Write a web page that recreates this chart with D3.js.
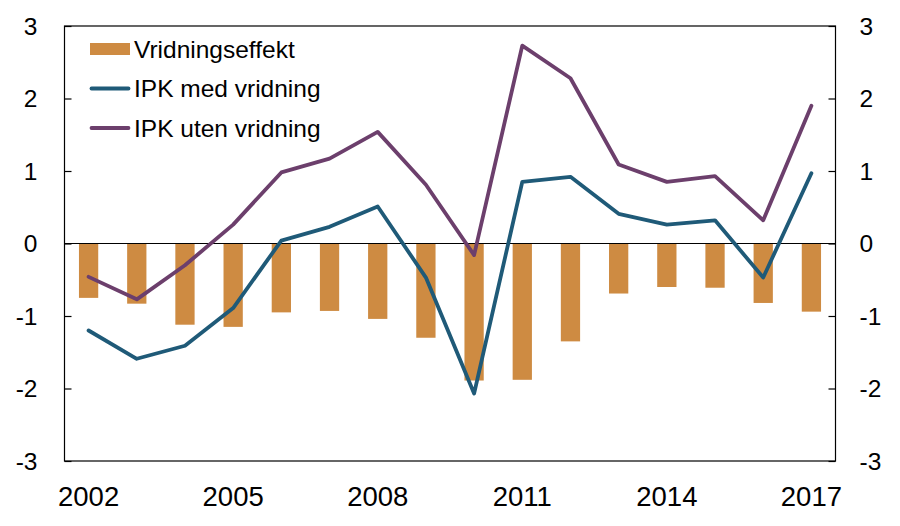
<!DOCTYPE html>
<html>
<head>
<meta charset="utf-8">
<script src="https://cdn.jsdelivr.net/npm/d3@7"></script>
<style>
  body { margin: 0; background: #fff; }
  svg text { font-family: "Liberation Sans", Arial, sans-serif; fill: #000; }
</style>
</head>
<body>
<div id="chart"></div>
<script>
const years = [2002, 2003, 2004, 2005, 2006, 2007, 2008, 2009, 2010, 2011, 2012, 2013, 2014, 2015, 2016, 2017];
const vridningseffekt = [-0.75, -0.83, -1.12, -1.15, -0.95, -0.93, -1.04, -1.30, -1.89, -1.88, -1.35, -0.69, -0.60, -0.61, -0.82, -0.94];
const ipkMed = [-1.20, -1.59, -1.41, -0.89, 0.04, 0.23, 0.51, -0.47, -2.07, 0.85, 0.92, 0.41, 0.26, 0.32, -0.47, 0.97];
const ipkUten = [-0.46, -0.77, -0.30, 0.26, 0.98, 1.17, 1.54, 0.81, -0.16, 2.73, 2.28, 1.09, 0.85, 0.93, 0.32, 1.90];
const yTicks = [-3, -2, -1, 0, 1, 2, 3];
const xLabels = [2002, 2005, 2008, 2011, 2014, 2017];
const legendItems = ['Vridningseffekt', 'IPK med vridning', 'IPK uten vridning'];

const width = 900, height = 526;
const margin = { top: 26, right: 64.5, bottom: 65, left: 64.5 };
const innerW = width - margin.left - margin.right;
const innerH = height - margin.top - margin.bottom;

const colBar = '#CE8B42', colMed = '#1F5A78', colUten = '#6C3F6C';

const svg = d3.select('#chart').append('svg')
    .attr('width', width)
    .attr('height', height);

const g = svg.append('g')
    .attr('transform', `translate(${margin.left},${margin.top})`);

const x = d3.scaleBand()
    .domain(years)
    .range([0, innerW])
    .paddingInner(0.6)
    .paddingOuter(0.3);

const y = d3.scaleLinear()
    .domain([-3, 3])
    .range([innerH, 0]);

const cx = d => x(d) + x.bandwidth() / 2;

// bars
g.append('g').selectAll('rect')
    .data(years)
    .join('rect')
    .attr('x', d => x(d))
    .attr('y', (d, i) => y(Math.max(0, vridningseffekt[i])))
    .attr('width', x.bandwidth())
    .attr('height', (d, i) => Math.abs(y(vridningseffekt[i]) - y(0)))
    .attr('fill', colBar);

// zero line
g.append('line')
    .attr('x1', 0).attr('x2', innerW)
    .attr('y1', y(0)).attr('y2', y(0))
    .attr('stroke', '#000').attr('stroke-width', 1.2);

const line = d3.line()
    .x((d, i) => cx(years[i]))
    .y(d => y(d));

g.append('path')
    .datum(ipkUten)
    .attr('d', line)
    .attr('fill', 'none')
    .attr('stroke', colUten)
    .attr('stroke-width', 3.8)
    .attr('stroke-linejoin', 'round')
    .attr('stroke-linecap', 'round');

g.append('path')
    .datum(ipkMed)
    .attr('d', line)
    .attr('fill', 'none')
    .attr('stroke', colMed)
    .attr('stroke-width', 3.8)
    .attr('stroke-linejoin', 'round')
    .attr('stroke-linecap', 'round');

// frame
g.append('rect')
    .attr('width', innerW).attr('height', innerH)
    .attr('fill', 'none').attr('stroke', '#000').attr('stroke-width', 1.2);

// inward ticks on both sides
const yLeft = g.append('g')
    .call(d3.axisRight(y).tickValues(yTicks).tickSize(7).tickFormat(''));
yLeft.select('.domain').remove();
yLeft.selectAll('.tick line').attr('stroke-width', 1.2);

const yRight = g.append('g')
    .attr('transform', `translate(${innerW},0)`)
    .call(d3.axisLeft(y).tickValues(yTicks).tickSize(7).tickFormat(''));
yRight.select('.domain').remove();
yRight.selectAll('.tick line').attr('stroke-width', 1.2);

const fmt = d => d < 0 ? '-' + Math.abs(d) : String(d);

g.append('g').selectAll('text')
    .data(yTicks)
    .join('text')
    .attr('x', -27)
    .attr('y', d => y(d))
    .attr('dy', '0.35em')
    .attr('text-anchor', 'end')
    .attr('font-size', 24.5)
    .text(fmt);

g.append('g').selectAll('text')
    .data(yTicks)
    .join('text')
    .attr('x', innerW + 24)
    .attr('y', d => y(d))
    .attr('dy', '0.35em')
    .attr('text-anchor', 'start')
    .attr('font-size', 24.5)
    .text(fmt);

// x labels
g.append('g').selectAll('text')
    .data(xLabels)
    .join('text')
    .attr('x', d => cx(d))
    .attr('y', innerH + 45)
    .attr('text-anchor', 'middle')
    .attr('font-size', 27.5)
    .text(d => d);

// legend
const legend = svg.append('g').attr('transform', 'translate(90,49)');
legendItems.forEach((name, i) => {
    const row = legend.append('g').attr('transform', `translate(0,${i * 39.5})`);
    if (i === 0) {
        row.append('rect')
            .attr('x', 0).attr('y', -6)
            .attr('width', 40).attr('height', 12)
            .attr('fill', colBar);
    } else {
        row.append('line')
            .attr('x1', 1.5).attr('x2', 38.5)
            .attr('y1', 0).attr('y2', 0)
            .attr('stroke', i === 1 ? colMed : colUten)
            .attr('stroke-width', 3.8)
            .attr('stroke-linecap', 'round');
    }
    row.append('text')
        .attr('x', 44)
        .attr('y', 0)
        .attr('dy', '0.35em')
        .attr('font-size', 24.5)
        .text(name);
});
</script>
</body>
</html>
